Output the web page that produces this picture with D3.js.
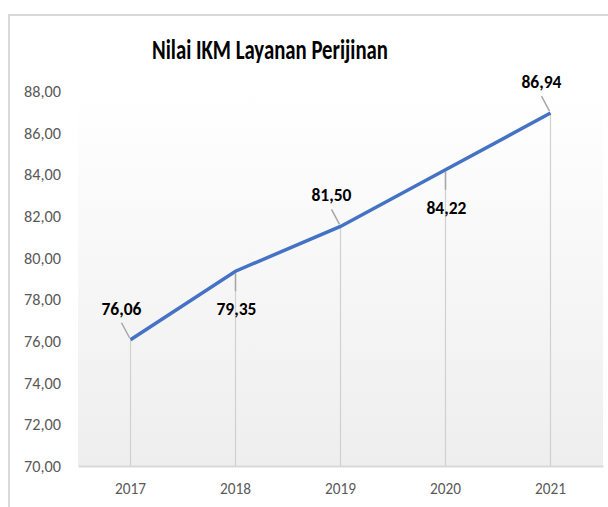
<!DOCTYPE html>
<html>
<head>
<meta charset="utf-8">
<script src="https://cdn.jsdelivr.net/npm/d3@7"></script>
<style>
  html, body { margin: 0; padding: 0; background: #fff; }
  svg { display: block; }
</style>
</head>
<body>
<svg id="chart"></svg>
<script>
// data
const years = ["2017", "2018", "2019", "2020", "2021"];
const ikmValues = [76.06, 79.35, 81.50, 84.22, 86.94];
const yTicks = [70, 72, 74, 76, 78, 80, 82, 84, 86, 88];
const chartTitle = "Nilai IKM Layanan Perijinan";

// label placement relative to point: "left" (above-left) or "below"
const labelSide = ["left", "below", "left", "below", "left"];

const width = 608, height = 507;
const plot = { left: 78, right: 603, top: 91, bottom: 466 };
const font = "Calibri, Carlito, Lato, 'Open Sans', sans-serif";
const fmt = v => v.toFixed(2).replace(".", ",");

const svg = d3.select("#chart").attr("width", width).attr("height", height);

// gradient for plot area
const defs = svg.append("defs");
const grad = defs.append("linearGradient")
    .attr("id", "plotGrad").attr("x1", 0).attr("y1", 0).attr("x2", 0).attr("y2", 1);
grad.append("stop").attr("offset", "0%").attr("stop-color", "#ffffff");
grad.append("stop").attr("offset", "100%").attr("stop-color", "#eeeeee");

// outer chart border
svg.append("rect")
    .attr("x", 9).attr("y", 15)
    .attr("width", 640).attr("height", 540)
    .attr("fill", "#fff")
    .attr("stroke", "#d9d9d9").attr("stroke-width", 2);

// scales
const x = d3.scaleBand().domain(years).range([plot.left, plot.right]);
const y = d3.scaleLinear().domain([70, 88]).range([plot.bottom, plot.top]);
const cx = d => x(d) + x.bandwidth() / 2;

// plot background
svg.append("rect")
    .attr("x", plot.left).attr("y", plot.top)
    .attr("width", plot.right - plot.left).attr("height", plot.bottom - plot.top)
    .attr("fill", "url(#plotGrad)");

// title
svg.append("text")
    .attr("x", 270).attr("y", 59)
    .attr("text-anchor", "middle")
    .attr("font-family", font)
    .attr("font-weight", "bold")
    .attr("font-size", 29)
    .attr("textLength", 236).attr("lengthAdjust", "spacingAndGlyphs")
    .attr("fill", "#000")
    .text(chartTitle);

// y axis labels
const yAxis = svg.append("g")
    .attr("transform", `translate(${plot.left}, 0)`)
    .call(d3.axisLeft(y).tickValues(yTicks).tickFormat(fmt).tickSize(0).tickPadding(17));
yAxis.select(".domain").remove();
yAxis.selectAll("text")
    .attr("font-family", font).attr("font-size", 17)
    .attr("textLength", 37).attr("lengthAdjust", "spacingAndGlyphs")
    .attr("fill", "#595959");

// x axis
const xAxis = svg.append("g")
    .attr("transform", `translate(0, ${plot.bottom})`)
    .call(d3.axisBottom(x).tickSize(0).tickPadding(16));
xAxis.select(".domain").attr("stroke", "#d9d9d9").attr("stroke-width", 2);
xAxis.selectAll("text")
    .attr("font-family", font).attr("font-size", 17)
    .attr("textLength", 31).attr("lengthAdjust", "spacingAndGlyphs")
    .attr("fill", "#595959");

// drop lines
svg.append("g").selectAll("line")
    .data(years)
    .join("line")
    .attr("x1", d => cx(d)).attr("x2", d => cx(d))
    .attr("y1", (d, i) => y(ikmValues[i]))
    .attr("y2", plot.bottom)
    .attr("stroke", "#d0d0d0").attr("stroke-width", 1.2);

// line
const lineGen = d3.line()
    .x((d, i) => cx(years[i]))
    .y(d => y(d));
svg.append("path")
    .datum(ikmValues)
    .attr("fill", "none")
    .attr("stroke", "#4472c4")
    .attr("stroke-width", 3.5)
    .attr("d", lineGen);

// data labels with leader lines
const labels = svg.append("g");
ikmValues.forEach((v, i) => {
    const px = cx(years[i]), py = y(v);
    let lx, ly, l1, l2;
    if (labelSide[i] === "left") {
        lx = px - 9; ly = py - 25;
        l1 = [px - 9, py - 17]; l2 = [px - 1, py - 2];
    } else {
        lx = px + 1; ly = py + 44;
        l1 = [px, py + 2]; l2 = [px, py + 20];
    }
    labels.append("line")
        .attr("x1", l1[0]).attr("y1", l1[1])
        .attr("x2", l2[0]).attr("y2", l2[1])
        .attr("stroke", "#a6a6a6").attr("stroke-width", 1.5);
    labels.append("text")
        .attr("x", lx).attr("y", ly)
        .attr("text-anchor", "middle")
        .attr("font-family", font)
        .attr("font-weight", "bold")
        .attr("font-size", 18)
        .attr("textLength", 40).attr("lengthAdjust", "spacingAndGlyphs")
        .attr("fill", "#000")
        .text(fmt(v));
});
</script>
</body>
</html>
